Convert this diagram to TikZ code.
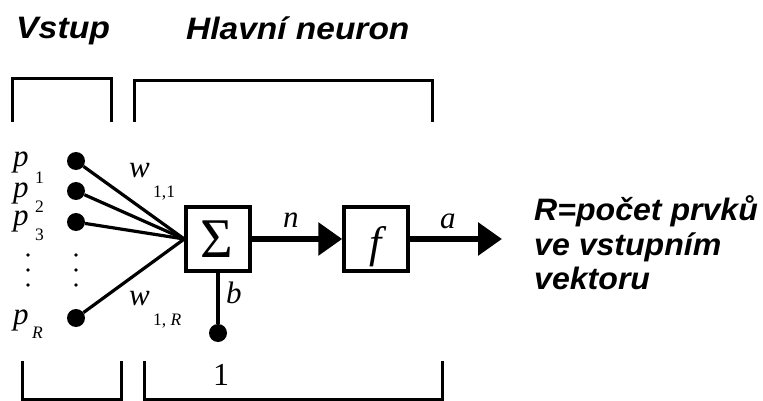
\documentclass[tikz,border=0pt]{standalone}
\usepackage{fontspec}
\newfontfamily\tms{Liberation Serif}
\newfontfamily\headfont{Liberation Sans}
\usetikzlibrary{arrows.meta}
\tikzset{
  x=1pt, y=-1pt,
  bracket/.style={line width=3pt},
  dotnode/.style={circle, fill=black, inner sep=0pt, minimum size=18pt},
  smalldot/.style={circle, fill=black, inner sep=0pt, minimum size=3.6pt},
  wline/.style={line width=3.2pt},
  boxnode/.style={draw, line width=3.5pt, minimum size=64pt, inner sep=0pt},
  thickarrow/.style={line width=6pt, -{Triangle[length=24pt 0, width=32pt 0]}},
  head/.style={font=\headfont\bfseries\itshape\fontsize{31}{31}\selectfont, anchor=base west, inner sep=0pt},
  note/.style={font=\headfont\bfseries\itshape\fontsize{31}{31}\selectfont, anchor=base west, inner sep=0pt},
  big/.style={font=\tms\itshape\fontsize{31}{31}\selectfont, anchor=base west, inner sep=0pt},
  sub/.style={font=\tms\fontsize{17.5}{17.5}\selectfont, anchor=base west, inner sep=0pt},
  num/.style={font=\tms\fontsize{32}{32}\selectfont, anchor=base, inner sep=0pt}
}
\begin{document}
\begin{tikzpicture}
\useasboundingbox (0,0) rectangle (763,401);
% headings
\node[head] (vstup) at (16,39) {\scalebox{1.09}[1]{Vstup}};
\node[head] (hlavni) at (186,40) {\scalebox{1.08}[1]{Hlavní neuron}};
% top brackets
\draw[bracket] (12,122) -- (12,79) -- (111,79) -- (111,122);
\draw[bracket] (134,122) -- (134,81) -- (432,81) -- (432,122);
% bottom brackets
\draw[bracket] (22,361) -- (22,399.5) -- (121,399.5) -- (121,361);
\draw[bracket] (144,361) -- (144,399.5) -- (442,399.5) -- (442,361);
% input labels
\node[big] (lp1) at (13,167) {p};
\node[sub] (ls1) at (35,183) {1};
\node[big] (lp2) at (13,197) {p};
\node[sub] (ls2) at (35,212) {2};
\node[big] (lp3) at (13,225) {p};
\node[sub] (ls3) at (35,240) {3};
\node[big] (lpR) at (13,324) {p};
\node[sub] (lsR) at (32,338) {\itshape R};
% vertical dots
\foreach \yy [count=\i] in {255,270,285} {
  \node[smalldot] (ldot\i) at (28,\yy) {};
  \node[smalldot] (rdot\i) at (76,\yy) {};
}
% input dots
\node[dotnode] (d1) at (76,161) {};
\node[dotnode] (d2) at (76,191) {};
\node[dotnode] (d3) at (76,222) {};
\node[dotnode] (dR) at (76,318) {};
% boxes
\node[boxnode] (sigma) at (218,239) {};
\node[font=\tms\fontsize{56}{56}\selectfont, anchor=base, inner sep=0pt] (sig) at (216.5,257) {Σ};
\node[boxnode] (fbox) at (376,239) {};
\node[font=\tms\itshape\fontsize{44}{44}\selectfont, anchor=base, inner sep=0pt] (flab) at (376,257) {f};
% weights
\draw[wline] (d1) -- (sigma.west);
\draw[wline] (d2) -- (sigma.west);
\draw[wline] (d3) -- (sigma.west);
\draw[wline] (dR) -- (sigma.west);
\node[big] (w1) at (129,177) {w};
\node[sub] (w1s) at (153,197) {1,1};
\node[big] (wR) at (129,305) {w};
\node[sub] (wRs) at (153,325) {1, \itshape R};
% bias
\node[dotnode] (bdot) at (218,333) {};
\draw[wline] (sigma.south) -- (bdot);
\node[big] (blab) at (226,303) {b};
\node[num] (one) at (221,385) {1};
% arrows
\draw[thickarrow] (sigma.east) -- (fbox.west);
\node[big] (nlab) at (283,227) {n};
\coordinate (out) at (502,239);
\draw[thickarrow] (fbox.east) -- (out);
\node[big] (alab) at (440,228) {a};
% note
\node[note] (r1) at (534,220) {\scalebox{1.035}[1]{R=počet prvků}};
\node[note] (r2) at (534,255) {\scalebox{1.035}[1]{ve vstupním}};
\node[note] (r3) at (534,289) {\scalebox{1.035}[1]{vektoru}};
\end{tikzpicture}
\end{document}
